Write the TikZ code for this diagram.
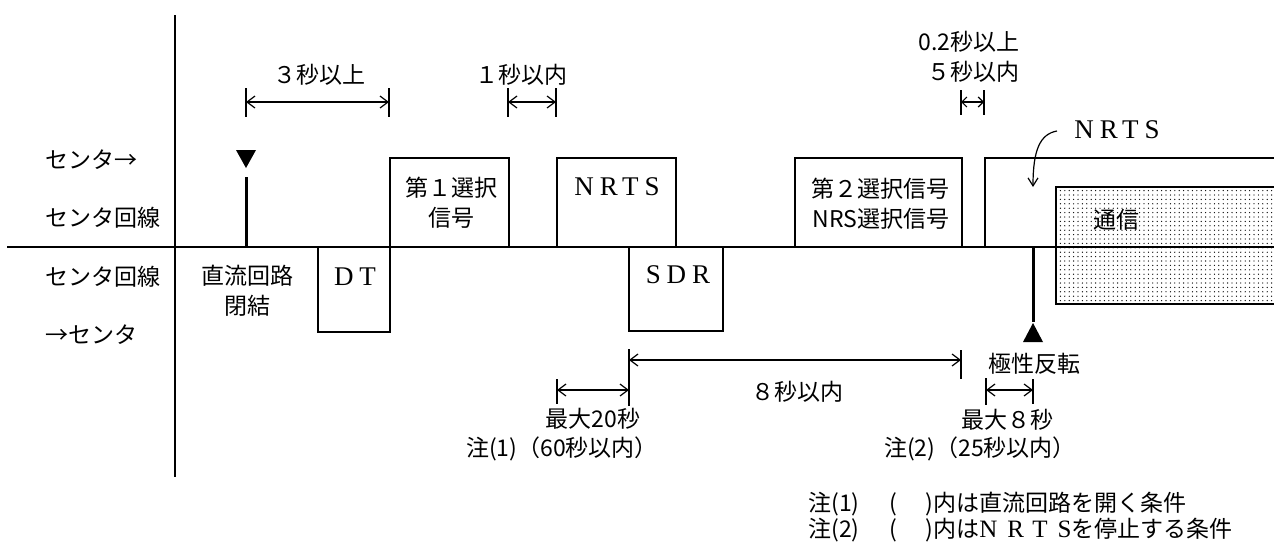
\documentclass[tikz,border=0pt]{standalone}
\usepackage{fontspec}
\setmainfont{Noto Sans CJK JP}
\newfontfamily\lat[LetterSpace=22]{Liberation Serif}
\newfontfamily\latw[LetterSpace=40]{Liberation Serif}
\usetikzlibrary{arrows.meta,patterns.meta}
\tikzset{
  axisline/.style={line width=0.75pt},
  sig/.style={line width=1.35pt},
  stem/.style={line width=1.5pt},
  tk/.style={line width=0.6pt},
  dim/.style={line width=0.6pt,{Straight Barb[length=4pt,width=6pt]}-{Straight Barb[length=4pt,width=6pt]}},
  dimsmall/.style={line width=0.6pt,{Straight Barb[length=2.5pt,width=5pt]}-{Straight Barb[length=2.5pt,width=5pt]}},
  jp/.style={font=\fontsize{11.5}{15}\selectfont,inner sep=0pt,align=center},
  lt/.style={font=\fontsize{13.5}{15}\lat,inner sep=0pt},
}
\begin{document}
\begin{tikzpicture}[x=0.5pt,y=-0.5pt]
\useasboundingbox (0,0) rectangle (1274,547);
% communication block (dotted)
\fill[pattern={Dots[distance=2.2pt,radius=0.33pt]}] (1056,187) rectangle (1274,304);
\draw[sig] (1274,187) -- (1056,187) -- (1056,304) -- (1274,304);
% axes
\draw[axisline] (7,247) -- (1274,247);
\draw[axisline] (175,15) -- (175,477);
% row labels
\node[jp,anchor=west] (r1) at (45,160) {センタ→};
\node[jp,anchor=west] (r2) at (45,218) {センタ回線};
\node[jp,anchor=west] (r3) at (45,277) {センタ回線};
\node[jp,anchor=west] (r4) at (45,335) {→センタ};
% marker: DC loop closure
\coordinate (m1) at (246,168);
\fill (236,150) -- (256,150) -- (m1) -- cycle;
\draw[stem] (246,177) -- (246,247);
\node[jp] (dc) at (247,291) {直流回路\\閉結};
% signal boxes
\draw[sig] (318,247) |- (390,332) -- (390,158) -- (509,158) -- (509,247);
\node[lt] (dt) at (355,277) {DT};
\node[jp] (s1) at (451,203) {第１選択\\信号};
\draw[sig] (557,247) |- (676,158) -- (676,247);
\node[lt] (nrts1) at (617,187) {NRTS};
\draw[sig] (629,247) |- (723,331) -- (723,247);
\node[lt] (sdr) at (678,275) {SDR};
\draw[sig] (795,247) |- (962,158) -- (962,247);
\node[jp,align=right] (s2) at (880,204) {第２選択信号\\NRS選択信号};
\draw[sig] (985,247) |- (1274,158);
\node[jp] (tsu) at (1116,220) {通信};
\node[lt] (nrts2) at (1117,130) {NRTS};
\coordinate (c0) at (1057,131);
\coordinate (c1) at (1033,187);
\draw[tk,-{Straight Barb[length=4pt,width=5pt]}] (c0) .. controls (1040,134) and (1033,150) .. (c1);
% marker: polarity reversal
\coordinate (m2) at (1033,323);
\draw[stem] (1033,247) -- (1033,322);
\fill (m2) -- (1043,342) -- (1023,342) -- cycle;
\node[jp] (pol) at (1034,364) {極性反転};
% top dimensions
\draw[tk] (246,88) -- (246,117);
\draw[tk] (389,88) -- (389,117);
\coordinate (a1) at (246,102); \coordinate (a2) at (389,102);
\draw[dim] (a1) -- (a2);
\node[jp] (d1) at (319,75) {３秒以上};
\draw[tk] (508,88) -- (508,117);
\draw[tk] (556,88) -- (556,117);
\coordinate (b1) at (508,102); \coordinate (b2) at (556,102);
\draw[dim] (b1) -- (b2);
\node[jp] (d2) at (521,75) {１秒以内};
\draw[tk] (961,90) -- (961,115);
\draw[tk] (984,90) -- (984,115);
\coordinate (e1) at (961,102); \coordinate (e2) at (984,102);
\draw[dimsmall] (e1) -- (e2);
\node[jp,align=right,anchor=east] (d3) at (1020,57) {0.2秒以上\\５秒以内};
% bottom dimensions
\draw[tk] (629,349) -- (629,406);
\draw[tk] (961,350) -- (961,379);
\coordinate (f1) at (629,360); \coordinate (f2) at (961,360);
\draw[dim] (f1) -- (f2);
\node[jp] (d4) at (797,392) {８秒以内};
\draw[tk] (557,379) -- (557,404);
\coordinate (g1) at (557,390); \coordinate (g2) at (629,390);
\draw[dim] (g1) -- (g2);
\node[jp] (d5a) at (593,419) {最大20秒};
\node[jp] (d5b) at (562,449) {注(1)（60秒以内）};
\draw[tk] (986,378) -- (986,405);
\draw[tk] (1033,379) -- (1033,404);
\coordinate (h1) at (986,390); \coordinate (h2) at (1033,390);
\draw[dim] (h1) -- (h2);
\node[jp] (d6a) at (1007,420) {最大８秒};
\node[jp] (d6b) at (980,449) {注(2)（25秒以内）};
% notes
\node[jp,anchor=west] (n1) at (808,504) {注(1)\hspace{15pt}(\hspace{14pt})内は直流回路を開く条件};
\node[jp,anchor=west] (n2) at (808,530) {注(2)\hspace{15pt}(\hspace{14pt})内は{\fontsize{12.5}{15}\latw NRTS}を停止する条件};
\end{tikzpicture}
\end{document}
